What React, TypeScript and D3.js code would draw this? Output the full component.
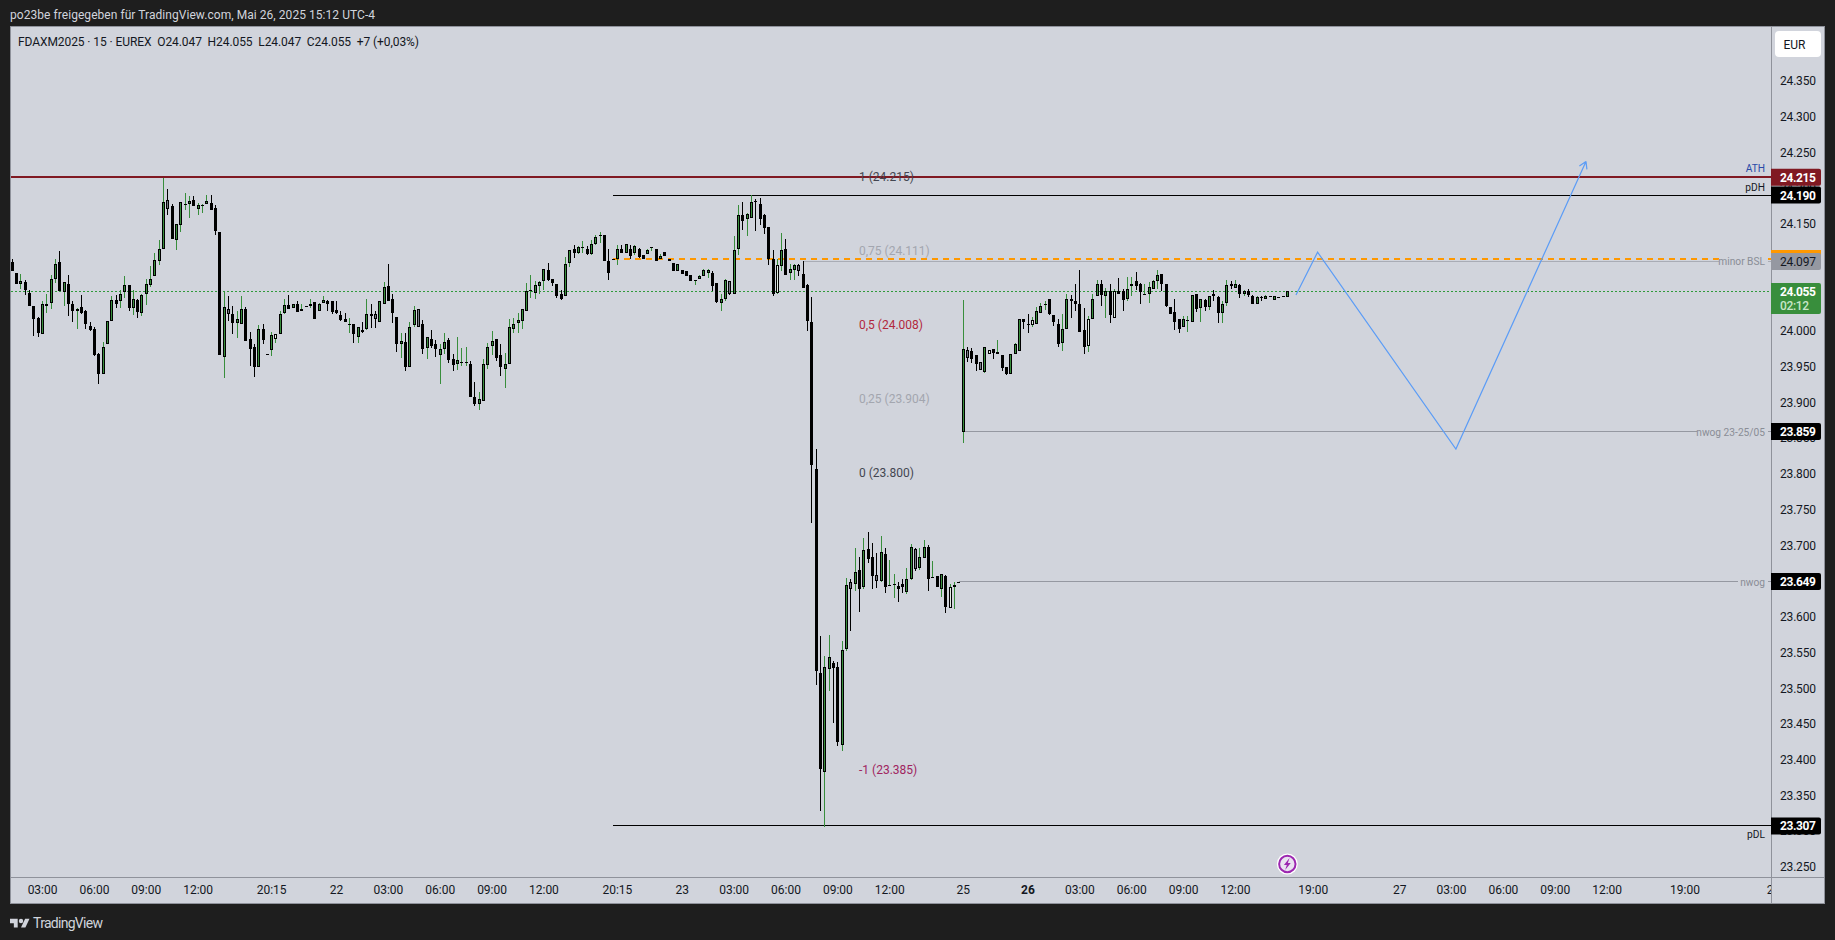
import React from "react";
import * as d3 from "d3";

// [open, high, low, close] rows for each trading day
const barsMay21: number[][] = [
[24096,24101,24083,24083],[24081,24081,24066,24066],[24066,24079,24058,24069],[24068,24071,24050,24057],[24053,24057,24034,24034],[24035,24035,23993,24017],[24018,24019,23992,23997],[23996,24042,23995,24037],[24034,24051,24025,24038],[24039,24078,24030,24073],
[24072,24100,24067,24094],[24096,24112,24056,24056],[24054,24068,24035,24068],[24066,24078,24021,24037],[24038,24042,24012,24028],[24028,24032,24003,24031],[24033,24050,24023,24025],[24028,24029,24003,24010],[24007,24013,24000,24001],[24002,24005,23965,23966],
[23967,23969,23925,23940],[23940,23984,23940,23978],[23981,24014,23981,24014],[24014,24049,24014,24043],[24043,24050,24032,24037],[24041,24057,24032,24052],[24054,24077,24046,24064],[24064,24064,24028,24032],[24032,24057,24022,24044],[24043,24044,24018,24026],
[24025,24051,24021,24050],[24052,24072,24036,24066],[24064,24091,24061,24073],[24076,24109,24076,24099],[24098,24127,24092,24114],[24115,24215,24115,24180],[24183,24198,24162,24171],[24175,24178,24128,24128],[24127,24149,24113,24149],[24148,24180,24138,24180],
[24178,24193,24169,24178],[24178,24189,24158,24181],[24183,24188,24174,24174],[24171,24179,24162,24176],[24176,24177,24165,24176],[24177,24190,24177,24181],[24179,24190,24169,24169],[24172,24176,24134,24140],[24138,24138,23966,23966],[23964,24054,23934,24033],
[24030,24049,24014,24024],[24024,24035,23996,24011],[24011,24028,23990,24016],[24010,24048,24010,24031],[24030,24033,23986,23986],[23989,23999,23951,23975],[23978,23981,23936,23950],[23950,24008,23950,24002],[24003,24009,23982,23987],[23967,23967,23967,23967],
[23973,23999,23965,23994],[23989,23995,23983,23995],[23996,24028,23996,24024],[24025,24044,24024,24036],[24036,24050,24031,24031],[24032,24038,24032,24038],[24038,24042,24026,24026],[24027,24038,24027,24030],[24034,24034,24034,24034],[24034,24044,24032,24038],
[24040,24040,24017,24017],[24027,24039,24027,24038],[24039,24048,24039,24043],[24042,24043,24028,24037],[24042,24042,24024,24026],
];
const barsMay22: number[][] = [
[24029,24042,24024,24025],[24022,24027,24014,24015],[24017,24025,24013,24013],[24010,24018,23997,24010],[24009,24009,23983,23995],[23992,24006,23983,24006],[24001,24013,23997,23998],[24003,24045,24001,24023],[24024,24038,24004,24021],[24024,24027,24004,24016],
[24013,24041,24013,24041],[24038,24068,24038,24061],[24062,24093,24042,24042],[24045,24052,24011,24025],[24020,24020,23970,23981],[23981,23997,23962,23986],[23984,23997,23944,23950],[23950,24013,23950,24006],[24008,24034,24006,24029],[24030,24030,24006,24006],
[24009,24015,23967,23975],[23976,23991,23960,23991],[23988,24001,23976,23979],[23982,23987,23963,23975],[23966,23981,23926,23974],[23975,23997,23967,23985],[23987,23990,23955,23959],[23961,23968,23944,23952],[23954,23991,23945,23959],[23957,23976,23951,23957],
[23957,23977,23951,23957],[23953,23958,23908,23908],[23908,23928,23895,23897],[23897,23915,23889,23904],[23902,23960,23902,23954],[23952,23983,23947,23978],[23979,24000,23966,23986],[23989,23989,23958,23962],[23966,23981,23937,23950],[23947,23969,23920,23954],
[23954,24016,23954,24005],[24003,24018,23997,24010],[24011,24025,23997,24015],[24014,24031,24002,24030],[24028,24067,24028,24056],[24056,24078,24046,24057],[24053,24070,24044,24064],[24063,24069,24051,24068],[24070,24086,24057,24086],[24085,24095,24070,24071],
[24073,24073,24062,24067],[24065,24066,24046,24049],[24051,24057,24043,24044],[24048,24103,24048,24094],[24095,24113,24089,24113],[24114,24120,24102,24109],[24109,24119,24108,24117],[24116,24126,24109,24117],[24114,24119,24106,24107],[24107,24127,24106,24122],
[24121,24134,24120,24131],[24132,24138,24123,24134],[24134,24134,24098,24098],[24098,24114,24071,24081],[24101,24101,24101,24101],[24101,24120,24092,24115],[24115,24120,24109,24109],[24109,24121,24109,24121],[24115,24120,24101,24105],[24109,24120,24106,24118],
[24115,24116,24102,24103],[24106,24106,24100,24101],[24107,24114,24107,24113],[24116,24117,24112,24117],[24114,24114,24098,24098],[24101,24108,24101,24104],[24110,24110,24105,24105],[24101,24101,24097,24098],[24095,24095,24083,24084],[24084,24094,24084,24093],
];
const barsMay23: number[][] = [
[24085,24085,24080,24080],[24083,24083,24076,24076],[24078,24078,24070,24070],[24070,24071,24064,24071],[24072,24078,24072,24076],[24076,24086,24076,24085],[24081,24086,24074,24085],[24081,24083,24055,24063],[24067,24067,24039,24040],[24039,24052,24027,24044],
[24045,24072,24042,24071],[24069,24070,24050,24052],[24052,24132,24052,24113],[24115,24176,24106,24162],[24162,24180,24141,24154],[24157,24165,24132,24163],[24158,24190,24158,24180],[24182,24185,24140,24181],[24178,24186,24148,24156],[24162,24164,24136,24144],
[24145,24145,24092,24101],[24101,24113,24048,24051],[24053,24100,24051,24092],[24091,24137,24083,24113],[24115,24129,24078,24078],[24081,24093,24071,24086],[24085,24094,24071,24092],[24092,24093,24076,24083],[24080,24098,24060,24060],[24064,24065,24000,24014],
[24012,24047,23731,23812],[23806,23835,23504,23524],[23521,23573,23328,23387],[23383,23545,23306,23530],[23527,23574,23496,23543],[23535,23538,23451,23528],[23530,23536,23419,23424],[23421,23566,23412,23553],[23555,23654,23552,23644],[23648,23652,23580,23639],
[23645,23696,23636,23663],[23665,23683,23606,23639],[23642,23710,23638,23693],[23694,23718,23675,23681],[23684,23703,23639,23657],[23658,23689,23640,23650],[23650,23713,23648,23690],[23688,23696,23633,23642],[23643,23679,23643,23644],[23645,23659,23626,23645],
[23643,23648,23621,23639],[23646,23652,23633,23642],[23635,23668,23631,23653],[23652,23701,23651,23697],[23695,23696,23664,23667],[23668,23696,23665,23683],[23682,23707,23682,23698],[23697,23700,23636,23653],[23654,23678,23654,23655],[23657,23657,23642,23642],
[23639,23659,23628,23659],[23657,23658,23605,23614],[23612,23646,23612,23642],[23641,23649,23611,23644],[23649,23649,23649,23649],
];
const barsMay26: number[][] = [
[23859,24043,23843,23975],[23973,23977,23957,23962],[23972,23976,23955,23960],[23966,23966,23944,23953],[23956,23957,23945,23945],[23942,23977,23941,23977],[23968,23973,23968,23973],[23974,23974,23960,23969],[23968,23987,23968,23971],[23966,23966,23944,23948],
[23949,23950,23938,23939],[23940,23967,23940,23967],[23968,23983,23968,23982],[23972,24017,23972,24017],[24017,24017,24002,24013],[24010,24023,23997,24008],[24008,24019,24006,24015],[24010,24033,24010,24027],[24025,24039,24025,24034],[24037,24041,24029,24037],
[24044,24045,24022,24023],[24022,24022,24007,24013],[24009,24017,23977,23982],[23983,24024,23972,24003],[24002,24051,24002,24045],[24045,24050,24018,24041],[24041,24065,24028,24038],[24037,24085,23999,23999],[24001,24032,23968,23978],[23979,24021,23971,24016],
[24017,24051,24017,24045],[24048,24071,24048,24065],[24066,24071,24034,24050],[24049,24060,24018,24056],[24056,24066,24011,24022],[24018,24059,24018,24055],[24056,24074,24052,24052],[24055,24059,24028,24043],[24045,24075,24041,24059],[24062,24075,24049,24066],
[24069,24082,24057,24063],[24066,24067,24038,24054],[24052,24066,24050,24052],[24052,24068,24039,24061],[24059,24071,24059,24070],[24069,24085,24058,24078],[24079,24080,24055,24066],[24066,24066,24033,24034],[24033,24033,24024,24024],[24026,24045,24001,24013],
[24016,24017,23997,24003],[24006,24021,24005,24016],[24014,24021,23998,24015],[24013,24050,24013,24050],[24051,24052,24026,24031],[24032,24044,24012,24044],[24043,24045,24028,24033],[24033,24049,24029,24049],[24051,24057,24042,24048],[24047,24048,24011,24025],
[24025,24041,24011,24038],[24039,24071,24034,24064],[24066,24070,24058,24063],[24060,24071,24060,24065],[24064,24066,24046,24052],[24052,24057,24049,24056],[24056,24058,24047,24050],[24048,24050,24038,24038],[24038,24048,24038,24047],[24047,24049,24042,24046],
[24045,24050,24045,24048],[24048,24048,24048,24048],[24043,24049,24043,24048],[24047,24047,24047,24047],[24048,24048,24048,24048],[24047,24055,24047,24055],
];
const greyBars = [36, 50, 84, 94, 166, 182, 194, 200, 209, 221, 224, 245];
const paleBars = [61, 177, 217, 226, 236, 249, 255];

const priceTicks = [24350,24300,24250,24200,24150,24100,24050,24000,23950,23900,23850,23800,23750,23700,23650,23600,23550,23500,23450,23400,23350,23300,23250];
const timeTickBars = [7,19,31,43,60,75,87,99,111,123,140,155,167,179,191,203,220,235,247,259,271,283,301,321,333,345,357,369,387,407.5];
const timeTickLabels = ["03:00","06:00","09:00","12:00","20:15","22","03:00","06:00","09:00","12:00","20:15","23","03:00","06:00","09:00","12:00","25","26","03:00","06:00","09:00","12:00","19:00","27","03:00","06:00","09:00","12:00","19:00","28"];

const fibLabels = ["1 (24.215)","0,75 (24.111)","0,5 (24.008)","0,25 (23.904)","0 (23.800)","-1 (23.385)"];
const fibPrices = [24215,24111,24008,23904,23800,23385];
const fibColors = ["#434651","#a3a6af","#b2283c","#a3a6af","#434651","#a0245f"];

const planBars = [297,302,334,364.1];
const planPrices = [24050,24110,23834.6,24237];

const W = 1835, H = 940;
const L = 11, R = 1771, OUTER = 1825, TOP = 27, AXIS_Y = 877, BOTTOM = 904;
const BG = "#d1d4dc", DARK = "#1e1e1e", GREEN = "#388e3c", FRAME = "#8f929b", INK = "#131722";
const FONT = "Roboto, sans-serif";

const bars = [...barsMay21, ...barsMay22, ...barsMay23, ...barsMay26];
const y = d3.scaleLinear().domain([24350, 23250]).range([80.7, 866.7]);
const x = d3.scaleLinear().domain([0, 295]).range([12.33, 1287.33]);
const planLine = d3.line<number>().x((b) => x(b)).y((_, i) => y(planPrices[i]));

function PriceTag(props: { price: number; fill: string; color: string; text: string; sub?: string; plain?: boolean }) {
  const c = y(props.price);
  const h = props.sub ? 31 : 17;
  const t = c - 8.5;
  return (
    <g>
      <path d={`M${R} ${t}h48a2 2 0 0 1 2 2v${h - 4}a2 2 0 0 1 -2 2h-48z`} fill={props.fill} />
      <text x={1780} y={c + 4.5} fontWeight={props.plain ? 400 : 700} fontSize={12} textLength={36} fill={props.color}>{props.text}</text>
      {props.sub && <text x={1780} y={c + 19} fontSize={12} fontWeight={500} textLength={29} fill="#c8e6c9">{props.sub}</text>}
    </g>
  );
}

function HLine(props: { from: number; price: number; color: string; width?: number; dash?: string }) {
  return <line x1={props.from} x2={R} y1={y(props.price)} y2={y(props.price)} stroke={props.color} strokeWidth={props.width ?? 1} strokeDasharray={props.dash} shapeRendering="crispEdges" />;
}

function LineText(props: { price: number; text: string; w: number; dy: number; color: string; mask?: boolean }) {
  const c = y(props.price);
  return (
    <g>
      {props.mask && <rect x={1765 - props.w} y={c - 8} width={props.w + 3} height={16} fill={BG} />}
      <text x={1765} y={c + props.dy} textAnchor="end" fontSize={10.2} fill={props.color}>{props.text}</text>
    </g>
  );
}

export default function App() {
  const end = planBars[planBars.length - 1];
  const prev = planBars[planBars.length - 2];
  const tipX = x(end), tipY = y(planPrices[3]);
  const ang = Math.atan2(tipY - y(planPrices[2]), tipX - x(prev));
  const head = [ang + 2.6, ang - 2.6].map((a) => `M${tipX + 8 * Math.cos(a)} ${tipY + 8 * Math.sin(a)}L${tipX} ${tipY}`).join("");
  return (
    <svg width={W} height={H} viewBox={`0 0 ${W} ${H}`} style={{ position: "fixed", left: 0, top: 0, display: "block" }} fontFamily={FONT}>
      <defs>
        <clipPath id="timeClip"><rect x={L} y={AXIS_Y} width={R - L} height={BOTTOM - AXIS_Y} /></clipPath>
      </defs>
      <rect width={W} height={H} fill={DARK} />
      <rect x={L} y={TOP} width={OUTER - L} height={BOTTOM - TOP} fill={BG} />
      <path d={`M${L - 0.5} ${TOP - 0.5}H${OUTER - 0.5}V${BOTTOM - 0.5}H${L - 0.5}Z M${R + 0.5} ${TOP}V${BOTTOM} M${L} ${AXIS_Y + 0.5}H${OUTER}`} fill="none" stroke={FRAME} shapeRendering="crispEdges" />

      <text x={10} y={19} fontSize={12} fill="#d1d4dc" textLength={365}>po23be freigegeben für TradingView.com, Mai 26, 2025 15:12 UTC-4</text>
      <text x={18} y={46} fontSize={12} fill={INK} textLength={401} style={{ whiteSpace: "pre" }}>FDAXM2025 · 15 · EUREX  O24.047  H24.055  L24.047  C24.055  +7 (+0,03%)</text>

      {/* reference lines */}
      <HLine from={L} price={24055} color="#2f9a3a" dash="2 2" />
      <HLine from={x(139)} price={24190} color="#000000" />
      <HLine from={x(139)} price={23307} color="#000000" />
      <HLine from={x(183)} price={24097} color="#a9acb5" />
      <HLine from={x(139)} price={24101} color="#ff9800" width={2} dash="6 5" />
      <HLine from={x(220)} price={23859} color="#9598a1" />
      <HLine from={x(219)} price={23649} color="#9598a1" />

      {/* candles */}
      <g shapeRendering="crispEdges">
        {bars.map(([o, h, l, c], i) => {
          const px = Math.floor(x(i));
          const up = c >= o;
          const grey = greyBars.includes(i);
          const pale = paleBars.includes(i);
          const top = Math.round(y(Math.max(o, c)));
          const bot = Math.round(y(Math.min(o, c)));
          const wick = up && !grey ? GREEN : "#000000";
          const fill = grey ? "#787b86" : pale ? "#e3efe4" : up ? GREEN : "#000000";
          return (
            <g key={i}>
              <rect x={px} y={y(h)} width={1} height={Math.max(y(l) - y(h), 0.01)} fill={wick} />
              {bot - top < 2 ? (
                <rect x={px - 1} y={top} width={3} height={Math.max(bot - top, 1)} fill="#000000" />
              ) : (
                <rect x={px - 0.5} y={top + 0.5} width={2} height={bot - top - 1} fill={fill} stroke="#000000" />
              )}
            </g>
          );
        })}
      </g>

      <line x1={L} x2={R} y1={y(24215)} y2={y(24215)} stroke="#801922" strokeWidth={2} shapeRendering="crispEdges" />

      {/* trade plan */}
      <path d={(planLine(planBars) ?? "") + head} fill="none" stroke="#5b9cf6" strokeWidth={1.2} />

      {/* fib labels */}
      {fibLabels.map((t, i) => (
        <text key={t} x={859} y={y(fibPrices[i]) + 3.5} fontSize={12} fill={fibColors[i]}>{t}</text>
      ))}

      <LineText price={24215} text="ATH" w={22} dy={-5} color="#2a4aa8" />
      <LineText price={24190} text="pDH" w={22} dy={-4} color="#131722" />
      <LineText price={24097} text="minor BSL" w={46} dy={4} color="#8a8d96" mask />
      <LineText price={23859} text="nwog 23-25/05" w={68} dy={4} color="#8a8d96" mask />
      <LineText price={23649} text="nwog" w={27} dy={4} color="#8a8d96" mask />
      <LineText price={23307} text="pDL" w={22} dy={12} color="#131722" />

      {/* price axis */}
      {priceTicks.map((p) => (
        <text key={p} x={1780} y={y(p) + 4.5} fontSize={12} textLength={36} fill={INK}>{d3.format(".3f")(p / 1000)}</text>
      ))}
      <rect x={1775} y={31} width={46} height={26} rx={4} fill="#ffffff" />
      <text x={1794.5} y={49} textAnchor="middle" fontSize={12} fill={INK}>EUR</text>

      <rect x={R} y={250} width={50} height={12} fill="#ff9800" />
      <PriceTag price={24097} fill="#9598a1" color={INK} text="24.097" plain />
      <PriceTag price={23649} fill="#000000" color="#ffffff" text="23.649" />
      <PriceTag price={23859} fill="#000000" color="#ffffff" text="23.859" />
      <PriceTag price={23307} fill="#000000" color="#ffffff" text="23.307" />
      <PriceTag price={24215} fill="#801922" color="#ffffff" text="24.215" />
      <PriceTag price={24190} fill="#000000" color="#ffffff" text="24.190" />
      <PriceTag price={24055} fill={GREEN} color="#ffffff" text="24.055" sub="02:12" />

      {/* time axis */}
      <g clipPath="url(#timeClip)">
        {timeTickBars.map((b, i) => (
          <text key={i} x={x(b)} y={894} textAnchor="middle" fontSize={12} fontWeight={timeTickLabels[i] === "26" ? 700 : 400} fill={INK}>{timeTickLabels[i]}</text>
        ))}
      </g>

      {/* alert icon */}
      <g transform={`translate(${x(295)} 864)`}>
        <circle r={10.5} fill="#ffffff" />
        <circle r={8.2} fill="#e9e2f0" stroke="#9c27b0" strokeWidth={2} />
        <path d="M2.2 -6L-3.4 1H-0.5L-2.2 6L3.4 -1H0.5Z" fill="#9c27b0" />
      </g>

      {/* brand */}
      <g transform="translate(10 915.5) scale(0.55)" fill="#d1d4dc">
        <path d="M14 6H0v8h7v8h7V6Z" />
        <circle cx={20} cy={10} r={4} />
        <path d="M28 22H20l7.5-16h8L28 22Z" />
      </g>
      <text x={33} y={928} fontSize={14} fill="#d1d4dc" textLength={70}>TradingView</text>
    </svg>
  );
}
